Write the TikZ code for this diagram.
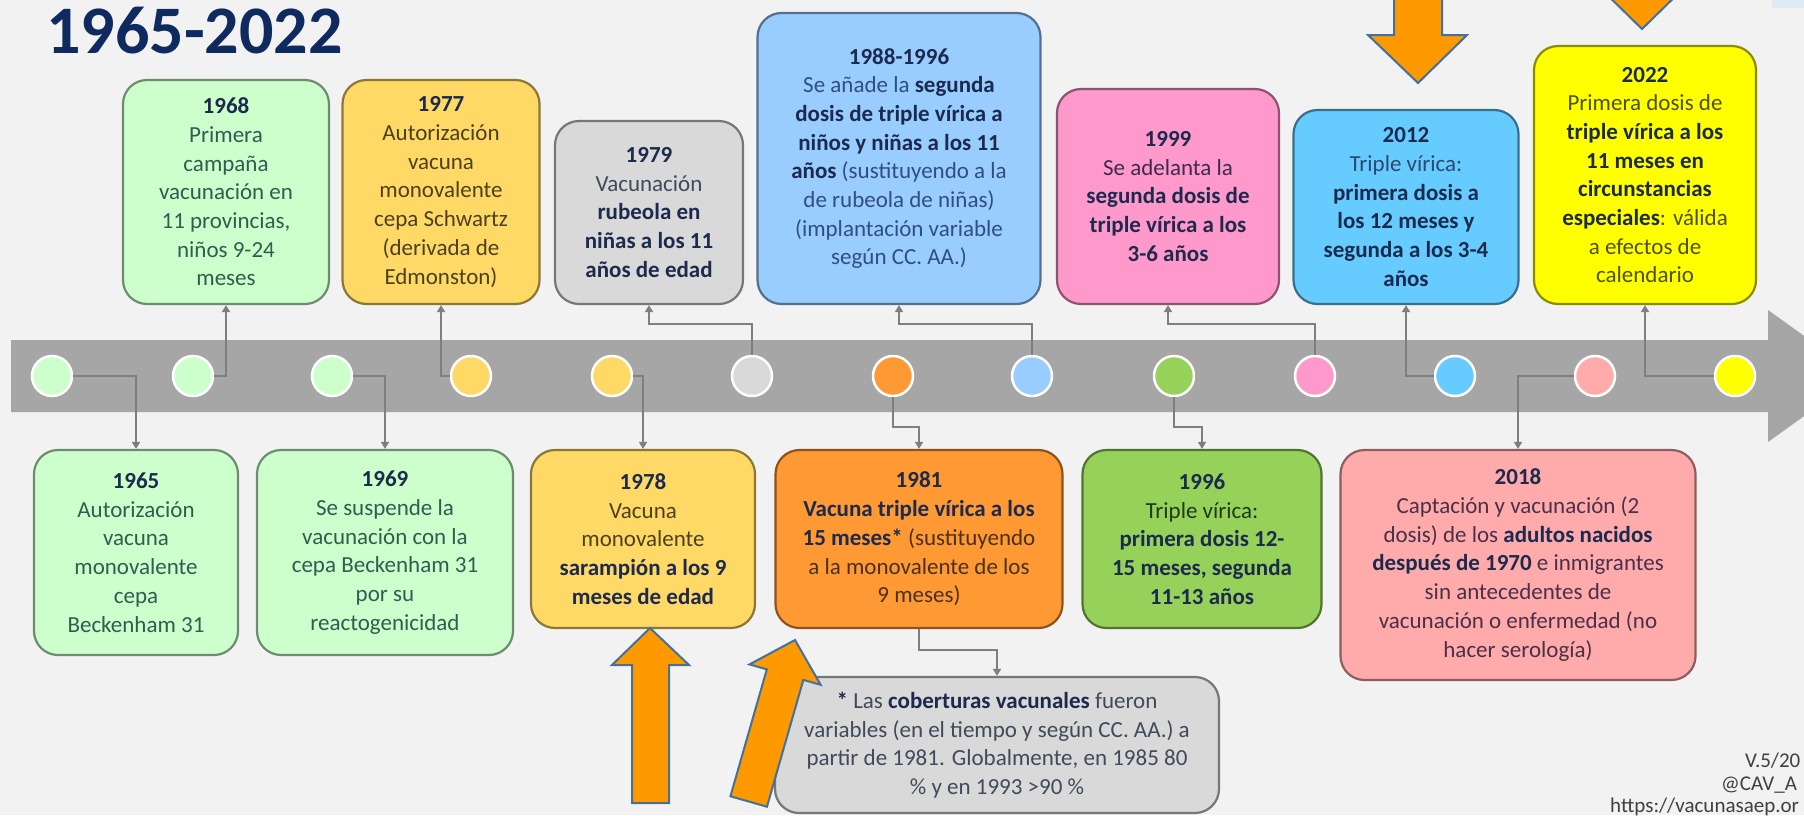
\documentclass[tikz,border=0pt]{standalone}
\usepackage{fontspec}
\setmainfont{Carlito}
\usepackage{xcolor}
\usepackage{tikz}
\usetikzlibrary{arrows.meta}

\definecolor{bgcol}{HTML}{F2F2F2}
\definecolor{bandgrey}{HTML}{A6A6A6}
\definecolor{linkgrey}{HTML}{7F7F7F}
\definecolor{navy}{HTML}{1C2A4E}
\definecolor{titlecol}{HTML}{0F2A5E}
\definecolor{footcol}{HTML}{404040}
\definecolor{arrorange}{HTML}{FF9900}
\definecolor{arrblue}{HTML}{41719C}
% box and dot fills
\definecolor{fgreen}{HTML}{CCFFCC}
\definecolor{fgold}{HTML}{FFD966}
\definecolor{fgrey}{HTML}{D9D9D9}
\definecolor{fsky}{HTML}{99CCFF}
\definecolor{forange}{HTML}{FF9933}
\definecolor{flime}{HTML}{96D25A}
\definecolor{fpink}{HTML}{FF99CC}
\definecolor{fblue}{HTML}{66CCFF}
\definecolor{fsalmon}{HTML}{FFABAB}
\definecolor{fyellow}{HTML}{FFFF00}
% body text tints
\definecolor{tgreen}{HTML}{2E5E50}
\definecolor{tgold}{HTML}{4D4020}
\definecolor{tgrey}{HTML}{3F4A5A}
\definecolor{tsky}{HTML}{2F4F7F}
\definecolor{torange}{HTML}{4A3020}
\definecolor{tlime}{HTML}{1F3A1F}
\definecolor{tpink}{HTML}{3F2A4F}
\definecolor{tblue}{HTML}{2A4A6F}
\definecolor{tsalmon}{HTML}{4A3048}
\definecolor{tyellow}{HTML}{4F4F10}
\definecolor{paleblue}{HTML}{DDEBF7}

\newcommand{\yr}[1]{{\bfseries\color{navy}#1}}
\newcommand{\hb}[1]{{\bfseries\color{navy}#1}}

\tikzset{
  event/.style={draw=#1!55!black, fill=#1, line width=2.2pt, rounded corners=24pt,
    align=center, inner sep=0pt, font=\fontsize{23}{28.7}\selectfont},
  dot/.style={circle, draw=white, line width=2.5pt, minimum size=40pt, inner sep=0pt},
  link/.style={draw=linkgrey, line width=2pt, -{Triangle[length=7pt,width=8pt]}},
  bigarrow/.style={fill=arrorange, draw=arrblue, line width=2pt},
  foot/.style={anchor=base west, inner sep=0pt, text=footcol, font=\fontsize{21}{21}\selectfont}
}

\begin{document}
\begin{tikzpicture}[x=1pt,y=-1pt]
\useasboundingbox (0,0) rectangle (1804,815);
\clip (0,0) rectangle (1804,815);
\fill[bgcol] (0,0) rectangle (1804,815);
\fill[paleblue] (1772,0) rectangle (1804,8);

\node[anchor=base west, inner sep=0pt, text=titlecol, font=\fontsize{68}{68}\bfseries\selectfont] (title) at (46,53) {1965-2022};

% time band
\fill[bandgrey] (11,340) -- (1768,340) -- (1768,310) -- (1860,376) -- (1768,442) -- (1768,412) -- (11,412) -- cycle;

\coordinate (up) at (0,324);
\coordinate (dn) at (0,427);
\coordinate (nt) at (0,650);

% top row
\node[event=fgreen, text=tgreen, minimum width=206pt, minimum height=224pt] (b1968) at (226,192)
  {\yr{1968}\\Primera\\campaña\\vacunación en\\11 provincias,\\niños 9-24\\meses};
\node[event=fgold, text=tgold, minimum width=197pt, minimum height=224pt] (b1977) at (441,192)
  {\yr{1977}\\Autorización\\vacuna\\monovalente\\cepa Schwartz\\(derivada de\\Edmonston)};
\node[event=fgrey, text=tgrey, minimum width=188pt, minimum height=183pt] (b1979) at (649,212.5)
  {\yr{1979}\\Vacunación\\\hb{rubeola en}\\\hb{niñas a los 11}\\\hb{años de edad}};
\node[event=fsky, text=tsky, minimum width=283pt, minimum height=291pt] (b1988) at (899,158.5)
  {\yr{1988-1996}\\Se añade la \hb{segunda}\\\hb{dosis de triple vírica a}\\\hb{niños y niñas a los 11}\\\hb{años} (sustituyendo a la\\de rubeola de niñas)\\(implantación variable\\según CC. AA.)};
\node[event=fpink, text=tpink, minimum width=222pt, minimum height=215pt] (b1999) at (1168,196.5)
  {\yr{1999}\\Se adelanta la\\\hb{segunda dosis de}\\\hb{triple vírica a los}\\\hb{3-6 años}};
\node[event=fblue, text=tblue, minimum width=225pt, minimum height=194pt] (b2012) at (1406,207)
  {\yr{2012}\\Triple vírica:\\\hb{primera dosis a}\\\hb{los 12 meses y}\\\hb{segunda a los 3-4}\\\hb{años}};
\node[event=fyellow, text=tyellow, minimum width=222pt, minimum height=258pt] (b2022) at (1645,175)
  {\yr{2022}\\Primera dosis de\\\hb{triple vírica a los}\\\hb{11 meses en}\\\hb{circunstancias}\\\hb{especiales}: válida\\a efectos de\\calendario};

% bottom row
\node[event=fgreen, text=tgreen, minimum width=204pt, minimum height=205pt] (b1965) at (136,552.5)
  {\yr{1965}\\Autorización\\vacuna\\monovalente\\cepa\\Beckenham 31};
\node[event=fgreen, text=tgreen, minimum width=256pt, minimum height=205pt] (b1969) at (385,552.5)
  {\yr{1969}\\Se suspende la\\vacunación con la\\cepa Beckenham 31\\por su\\reactogenicidad};
\node[event=fgold, text=tgold, minimum width=224pt, minimum height=178pt] (b1978) at (643,539)
  {\yr{1978}\\Vacuna\\monovalente\\\hb{sarampión a los 9}\\\hb{meses de edad}};
\node[event=forange, text=torange, minimum width=287pt, minimum height=178pt] (b1981) at (919,539)
  {\yr{1981}\\\hb{Vacuna triple vírica a los}\\\hb{15 meses*} (sustituyendo\\a la monovalente de los\\9 meses)};
\node[event=flime, text=tlime, minimum width=239pt, minimum height=178pt] (b1996) at (1202,539)
  {\yr{1996}\\Triple vírica:\\\hb{primera dosis 12-}\\\hb{15 meses, segunda}\\\hb{11-13 años}};
\node[event=fsalmon, text=tsalmon, minimum width=355pt, minimum height=230pt] (b2018) at (1518,565)
  {\yr{2018}\\Captación y vacunación (2\\dosis) de los \hb{adultos nacidos}\\\hb{después de 1970} e inmigrantes\\sin antecedentes de\\vacunación o enfermedad (no\\hacer serología)};
\node[event=fgrey, text=tgrey, minimum width=444pt, minimum height=136pt] (note) at (997,745)
  {\hb{*} Las \hb{coberturas vacunales} fueron\\variables (en el tiempo y según CC. AA.) a\\partir de 1981. Globalmente, en 1985 80\\\% y en 1993 >90 \%};

% dots on the band
\foreach \i/\x/\c in {1/52/fgreen, 2/193/fgreen, 3/332/fgreen, 4/471/fgold, 5/612/fgold,
  6/752/fgrey, 7/893/forange, 8/1032/fsky, 9/1174/flime, 10/1315/fpink,
  11/1455/fblue, 12/1595/fsalmon, 13/1735/fyellow}
  \node[dot, fill=\c] (c\i) at (\x,376) {};

% connectors
\draw[link] (c1.east) -| (b1965.north);
\draw[link] (c2.east) -| (b1968.south);
\draw[link] (c3.east) -| (b1969.north);
\draw[link] (c4.west) -| (b1977.south);
\draw[link] (c5.east) -| (b1978.north);
\draw[link] (c6.north) -- (c6.north |- up) -| (b1979.south);
\draw[link] (c7.south) -- (c7.south |- dn) -| (b1981.north);
\draw[link] (c8.north) -- (c8.north |- up) -| (b1988.south);
\draw[link] (c9.south) -- (c9.south |- dn) -| (b1996.north);
\draw[link] (c10.north) -- (c10.north |- up) -| (b1999.south);
\draw[link] (c11.west) -| (b2012.south);
\draw[link] (c12.west) -| (b2018.north);
\draw[link] (c13.west) -| (b2022.south);
\draw[link] (b1981.south) -- (b1981.south |- nt) -| (note.north);

% orange pointers
\draw[bigarrow] (1394,-5) -- (1394,35) -- (1368,35) -- (1418,83) -- (1467,35) -- (1442,35) -- (1442,-5) -- cycle;
\draw[bigarrow] (1618,-40) -- (1618,-19) -- (1593,-19) -- (1642,29) -- (1691,-19) -- (1666,-19) -- (1666,-40) -- cycle;
\draw[bigarrow] (632,803) -- (632,665) -- (612,665) -- (650,628) -- (689,665) -- (669,665) -- (669,803) -- cycle;
\begin{scope}[shift={(795,640)}, rotate=-16]
  \draw[bigarrow] (0,0) -- (37,36) -- (19,36) -- (19,168) -- (-19,168) -- (-19,36) -- (-37,36) -- cycle;
\end{scope}

% footer
\node[foot] (ver) at (1745,767) {V.5/20};
\node[foot] (cav) at (1721,790) {@CAV\_A};
\node[foot] (url) at (1610,812) {https://vacunasaep.or};
\end{tikzpicture}
\end{document}
